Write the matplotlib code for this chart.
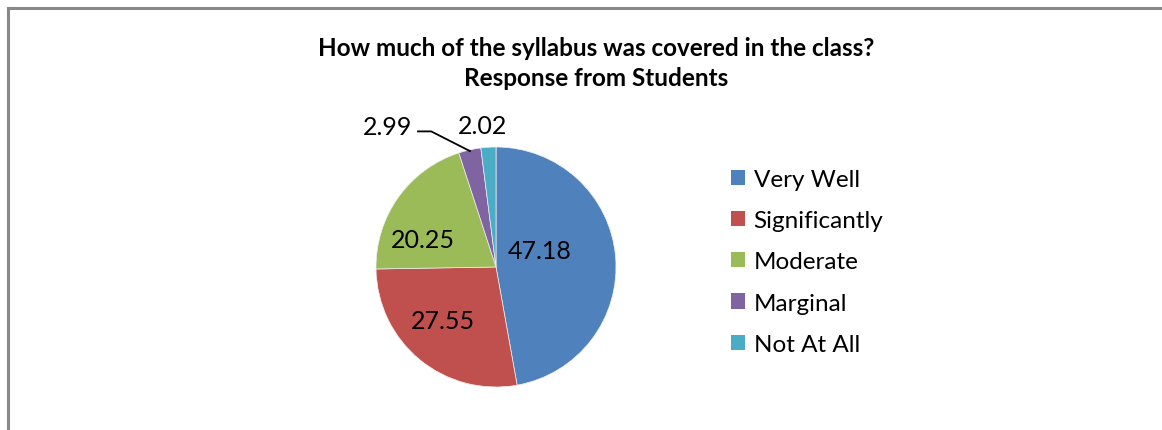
import numpy as np
import matplotlib.pyplot as plt
from matplotlib.patches import Patch
from matplotlib.lines import Line2D

categories = ['Very Well', 'Significantly', 'Moderate', 'Marginal', 'Not At All']
values = [47.18, 27.55, 20.25, 2.99, 2.02]
colors = ['#4F81BD', '#C0504D', '#9BBB59', '#8064A2', '#4BACC6']
title = 'How much of the syllabus was covered in the class?\nResponse from Students'

# label anchor positions (pie radius = 1), layout only
label_pos = [(0.36, 0.14), (-0.44, -0.45), (-0.61, 0.23), (-0.9, 1.17), (-0.11, 1.18)]

plt.rcParams['font.family'] = ['Lato', 'DejaVu Sans']

W, H = 1162, 431
fig = plt.figure(figsize=(W / 100, H / 100), dpi=100)

# chart frame (only left/top edges visible in the crop)
fig.add_artist(Line2D([8 / W, 8 / W], [0, 1 - 9 / H], color='#888888', lw=2.2))
fig.add_artist(Line2D([8 / W, 1], [1 - 9 / H, 1 - 9 / H], color='#888888', lw=2.2))

cx, cy, r = 496, 268, 120
ax = fig.add_axes([(cx - r) / W, (H - cy - r) / H, 2 * r / W, 2 * r / H])
wedges, _ = ax.pie(values, colors=colors, startangle=90, counterclock=False,
                   radius=1, wedgeprops=dict(linewidth=0.5, edgecolor='#f0f0f0'))
ax.set_xlim(-1, 1)
ax.set_ylim(-1, 1)
ax.set_aspect('equal')
ax.axis('off')

for i, (v, (x, y)) in enumerate(zip(values, label_pos)):
    ax.text(x, y, f'{v:.2f}', ha='center', va='center', fontsize=18, color='black')

# leader line for the Marginal slice
w = wedges[3]
mid = np.deg2rad((w.theta1 + w.theta2) / 2)
px, py = np.cos(mid) * 0.99, np.sin(mid) * 0.99
lx, ly = -0.65, 1.13
ax.plot([lx, lx + 0.11, px], [ly, ly, py], color='black', lw=1.3, clip_on=False)

fig.text(596 / W, 1 - 63.5 / H, title, ha='center', va='center', fontsize=17.5,
         fontweight='bold', linespacing=1.36)

handles = [Patch(facecolor=c, edgecolor='none') for c in colors]
fig.legend(handles, categories, loc='upper left', bbox_to_anchor=(731 / W, 1 - 170 / H),
           frameon=False, fontsize=17.5, handlelength=0.58, handleheight=0.58,
           handletextpad=0.35, labelspacing=0.83, borderaxespad=0, borderpad=0)

fig.savefig('out.png', dpi=100)
